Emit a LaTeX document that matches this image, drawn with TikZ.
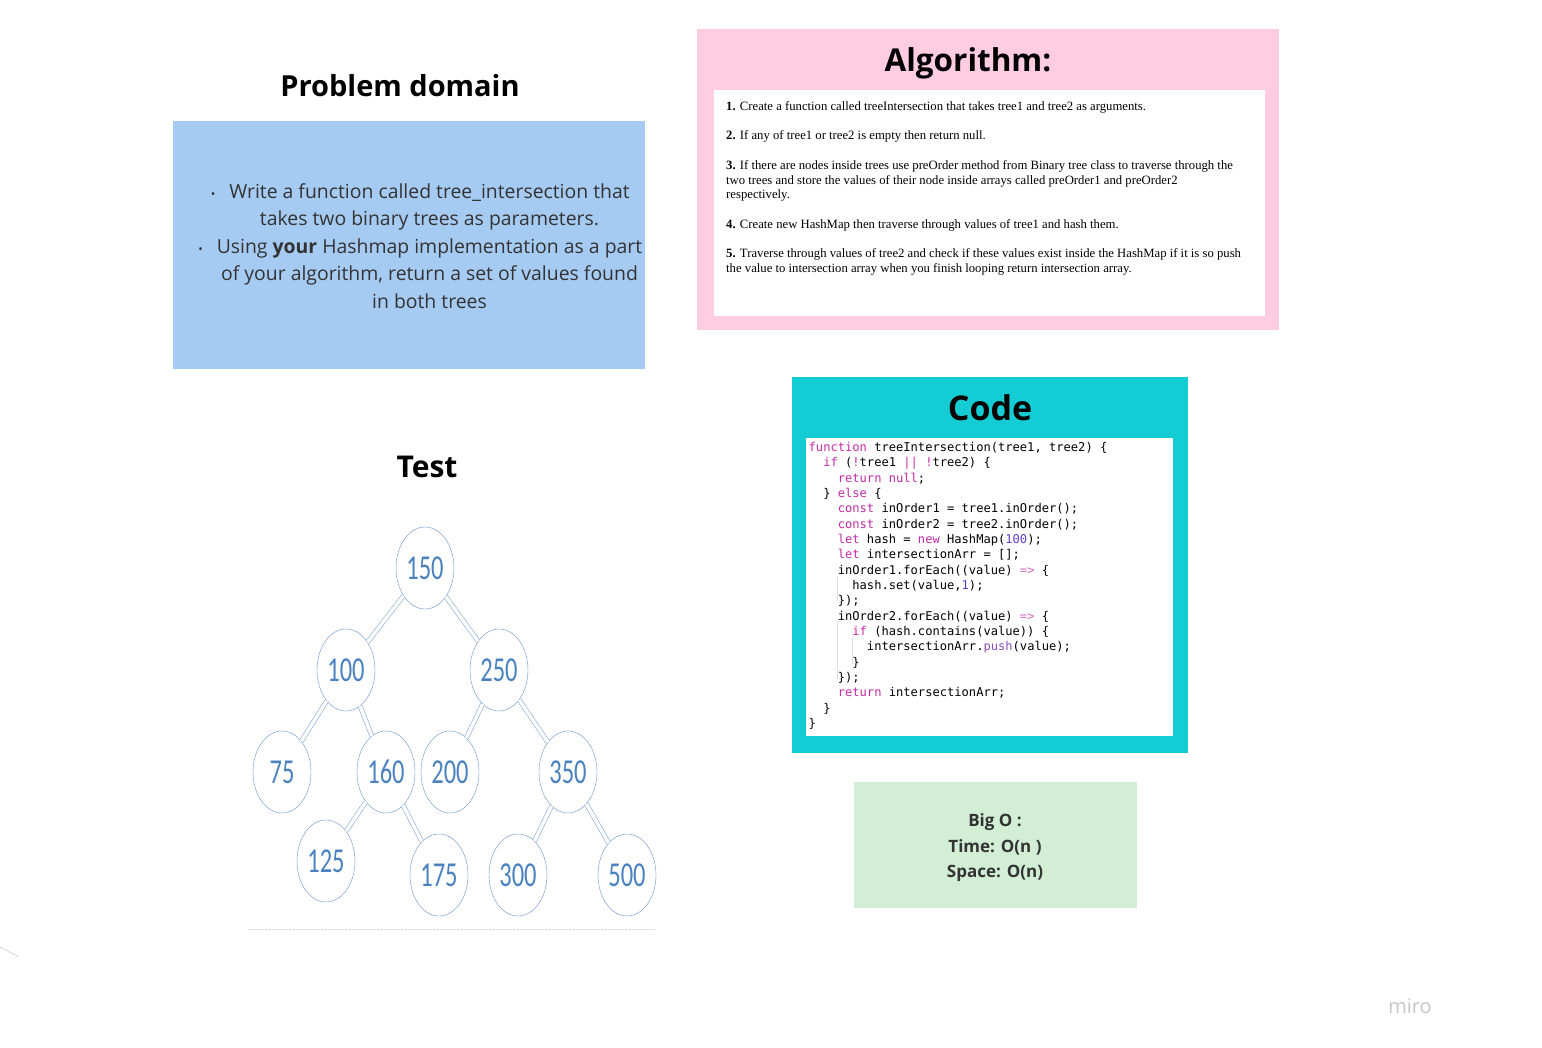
\documentclass[tikz,border=0pt]{standalone}
\usepackage{fontspec}
\setmainfont{Open Sans}
\newfontfamily\algofont{Liberation Serif}
\newfontfamily\codefont{DejaVu Sans Mono}
\newfontfamily\treefont{Carlito}[FakeStretch=0.70]
\usetikzlibrary{shapes.geometric, positioning}

\definecolor{probblue}{HTML}{A6CBF3}
\definecolor{algopink}{HTML}{FFCCE0}
\definecolor{codeteal}{HTML}{14CDD4}
\definecolor{bigogreen}{HTML}{D2EED5}
\definecolor{treetext}{HTML}{4A82C0}
\definecolor{treeborder}{HTML}{6792CB}
\definecolor{treeedge}{HTML}{86AADA}
\definecolor{kwcolor}{HTML}{C42AA6}
\definecolor{numcolor}{HTML}{5A3ECF}
\definecolor{fncolor}{HTML}{8A4FB7}
\definecolor{bodytext}{HTML}{333333}

\newcommand\codekw[1]{\textcolor{kwcolor}{#1}}
\newcommand\codenum[1]{\textcolor{numcolor}{#1}}
\newcommand\codefn[1]{\textcolor{fncolor}{#1}}
\newcommand\codeindent[1]{\hspace*{#1\fontdimen2\font}}
\newcommand\hangbullet{\llap{{\fontsize{12}{12}\selectfont\textbullet}\hspace{14pt}}}

\begin{document}
\begin{tikzpicture}[x=1pt, y=-1pt,
    title/.style={anchor=base, inner sep=0, font=\bfseries\fontsize{30}{30}\selectfont},
    algoline/.style={anchor=base west, inner sep=0, font=\algofont\fontsize{12.7}{14}\selectfont},
    codeline/.style={anchor=base west, inner sep=0, font=\codefont\fontsize{12.1}{14}\selectfont},
    treenode/.style={ellipse, draw=treeborder, thin, fill=white, minimum width=58pt,
        minimum height=82pt, inner sep=0, text=treetext,
        font=\treefont\fontsize{35}{35}\selectfont, on grid},
    branch/.style={draw=treeedge, line width=0.6pt, double=white, double distance=3.5pt},
    guide/.style={draw=gray!25, line width=0.5pt}]

    \useasboundingbox (0,0) rectangle (1542,1047);
    \fill[white] (0,0) rectangle (1542,1047);

    % problem domain
    \node[title, font=\bfseries\fontsize{29}{29}\selectfont] (probtitle) at (400,96) {Problem domain};
    \fill[probblue] (173,121) rectangle (645,369);
    \node[align=center, text=bodytext, font=\fontsize{19.4}{27.6}\selectfont] (probtext) at (429.5,246)
        {\hangbullet Write a function called tree\_intersection that\\
         takes two binary trees as parameters.\\
         \hangbullet Using \textbf{your} Hashmap implementation as a part\\
         of your algorithm, return a set of values found\\
         in both trees};

    % algorithm
    \fill[algopink] (697,29) rectangle (1279,330);
    \fill[white] (714,90) rectangle (1265,316);
    \node[title, font=\bfseries\fontsize{31.5}{32}\selectfont] (algotitle) at (968,71) {Algorithm:};
    \node[algoline] (a1) at (726,110.5) {\textbf{1.} Create a function called treeIntersection that takes tree1 and tree2 as arguments.};
    \node[algoline] (a2) at (726,139.5) {\textbf{2.} If any of tree1 or tree2 is empty then return null.};
    \node[algoline] (a3) at (726,169.5) {\textbf{3.} If there are nodes inside trees use preOrder method from Binary tree class to traverse through the};
    \node[algoline] (a4) at (726,184) {two trees and store the values of their node inside arrays called preOrder1 and preOrder2};
    \node[algoline] (a5) at (726,198.5) {respectively.};
    \node[algoline] (a6) at (726,228.5) {\textbf{4.} Create new HashMap then traverse through values of tree1 and hash them.};
    \node[algoline] (a7) at (726,257.5) {\textbf{5.} Traverse through values of tree2 and check if these values exist inside the HashMap if it is so push};
    \node[algoline] (a8) at (726,272) {the value to intersection array when you finish looping return intersection array.};

    % code
    \fill[codeteal] (792,377) rectangle (1188,753);
    \fill[white] (806,438) rectangle (1173,736);
    \node[title, font=\bfseries\fontsize{34}{34}\selectfont] (codetitle) at (990,420) {Code};
    \draw[guide] (837.5,577) -- (837.5,601);
    \draw[guide] (837.5,622) -- (837.5,679);
    \draw[guide] (852,637) -- (852,664);
    \foreach \txt [count=\i] in {
        {\codekw{function} treeIntersection(tree1, tree2) \{},
        {\codeindent{2}\codekw{if} (\codekw{!}tree1 \codekw{||} \codekw{!}tree2) \{},
        {\codeindent{4}\codekw{return} \codekw{null};},
        {\codeindent{2}\} \codekw{else} \{},
        {\codeindent{4}\codekw{const} inOrder1 = tree1.inOrder();},
        {\codeindent{4}\codekw{const} inOrder2 = tree2.inOrder();},
        {\codeindent{4}\codekw{let} hash = \codekw{new} HashMap(\codenum{100});},
        {\codeindent{4}\codekw{let} intersectionArr = [];},
        {\codeindent{4}inOrder1.forEach((value) \textcolor{kwcolor!70}{=>} \{},
        {\codeindent{6}hash.set(value,\codenum{1});},
        {\codeindent{4}\});},
        {\codeindent{4}inOrder2.forEach((value) \textcolor{kwcolor!70}{=>} \{},
        {\codeindent{6}\codekw{if} (hash.contains(value)) \{},
        {\codeindent{8}intersectionArr.\codefn{push}(value);},
        {\codeindent{6}\}},
        {\codeindent{4}\});},
        {\codeindent{4}\codekw{return} intersectionArr;},
        {\codeindent{2}\}},
        {\}}}
        \node[codeline] (c\i) at (808.5,451.5+15.33*\i-15.33) {\txt};

    % big o
    \fill[bigogreen] (854,782) rectangle (1137,908);
    \node[align=center, text=bodytext, font=\bfseries\fontsize{17}{25.5}\selectfont] (bigo) at (995,848)
        {Big O :\\ Time: O(n )\\ Space: O(n)};

    % test tree
    \node[title] (testtitle) at (427,477) {Test};
    \node[treenode] (n150) at (425,568) {150};
    \node[treenode, below left=102pt and 79pt of n150] (n100) {100};
    \node[treenode, below right=102pt and 74pt of n150] (n250) {250};
    \node[treenode, below left=102pt and 64pt of n100] (n75) {75};
    \node[treenode, below right=102pt and 40pt of n100] (n160) {160};
    \node[treenode, below left=102pt and 49pt of n250] (n200) {200};
    \node[treenode, below right=102pt and 69pt of n250] (n350) {350};
    \node[treenode, below left=89pt and 60pt of n160] (n125) {125};
    \node[treenode, below right=103pt and 53pt of n160] (n175) {175};
    \node[treenode, below left=103pt and 50pt of n350] (n300) {300};
    \node[treenode, below right=103pt and 59pt of n350] (n500) {500};

    \foreach \a/\b in {n150/n100, n150/n250, n100/n75, n100/n160, n250/n200,
        n250/n350, n160/n125, n160/n175, n350/n300, n350/n500}
        \draw[branch] (\a) -- (\b);

    \draw[gray!30, densely dotted] (248,929) -- (655,929);
    \draw[gray!50] (0,947) -- (19,957);

    \node[text=gray!45, font=\fontsize{20}{20}\selectfont] (miro) at (1410,1006) {miro};
\end{tikzpicture}
\end{document}
